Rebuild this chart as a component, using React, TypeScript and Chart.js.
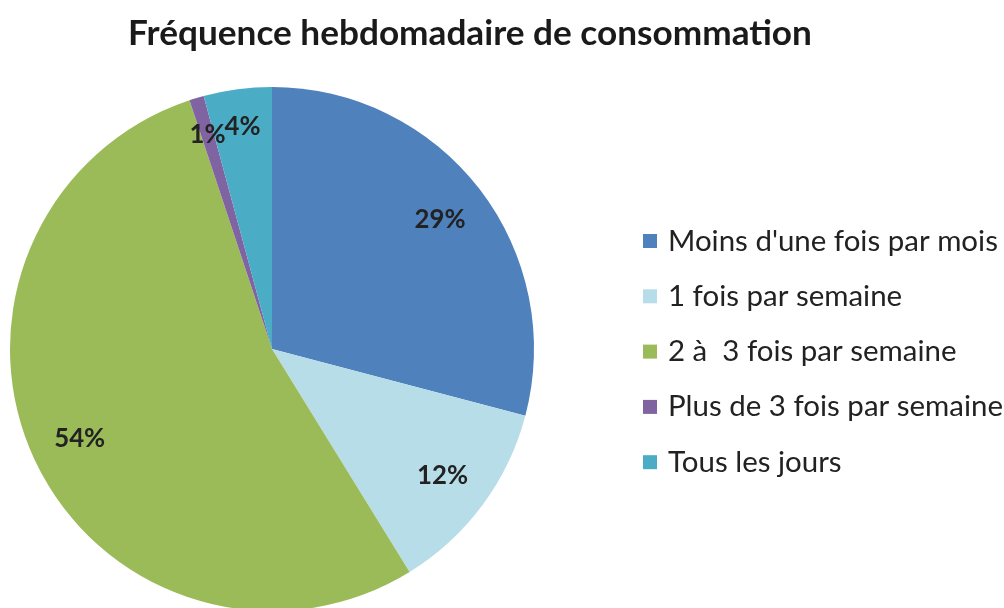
import React, { useEffect, useRef } from "react";
import { Chart, registerables } from "chart.js";

Chart.register(...registerables);

const TITLE = "Fréquence hebdomadaire de consommation";
const CATEGORIES = [
  "Moins d'une fois par mois",
  "1 fois par semaine",
  "2 à  3 fois par semaine",
  "Plus de 3 fois par semaine",
  "Tous les jours",
];
const VALUES = [29.1, 12.1, 53.7, 0.9, 4.2];
const LABELS = ["29%", "12%", "54%", "1%", "4%"];
const COLORS = ["#4F81BD", "#B7DDE8", "#9BBB59", "#8064A2", "#4BACC6"];

const FONT = "Lato, 'Open Sans', sans-serif";

function fitFont(ctx: CanvasRenderingContext2D, text: string, weight: string, target: number, base: number) {
  ctx.font = `${weight} ${base}px ${FONT}`;
  const w = ctx.measureText(text).width;
  return base * (target / w);
}

const overlayPlugin = {
  id: "overlay",
  afterDatasetsDraw(chart: any) {
    const ctx: CanvasRenderingContext2D = chart.ctx;
    ctx.save();
    // title
    const ts = fitFont(ctx, TITLE, "bold", 684, 30);
    ctx.font = `bold ${ts}px ${FONT}`;
    ctx.fillStyle = "#1a1a1a";
    ctx.textAlign = "center";
    ctx.textBaseline = "middle";
    ctx.fillText(TITLE, 470, 34);

    // data labels
    const meta = chart.getDatasetMeta(0);
    const ls = fitFont(ctx, "29%", "bold", 51, 24);
    ctx.font = `bold ${ls}px ${FONT}`;
    ctx.fillStyle = "#222";
    meta.data.forEach((arc: any, i: number) => {
      const { x, y, startAngle, endAngle, outerRadius } = arc.getProps(
        ["x", "y", "startAngle", "endAngle", "outerRadius"],
        true
      );
      const mid = (startAngle + endAngle) / 2;
      const f = VALUES[i] < 5 ? 0.855 : 0.81;
      const r = outerRadius * f;
      ctx.fillText(LABELS[i], x + Math.cos(mid) * r, y + Math.sin(mid) * r);
    });

    // legend
    const gs = fitFont(ctx, CATEGORIES[0], "normal", 330, 24);
    ctx.font = `normal ${gs}px ${FONT}`;
    ctx.textAlign = "left";
    const ys = [241, 296.3, 351.6, 406.9, 462.2];
    CATEGORIES.forEach((c, i) => {
      ctx.fillStyle = COLORS[i];
      ctx.fillRect(643, ys[i] - 7, 14, 14);
      ctx.fillStyle = "#222";
      ctx.fillText(c, 668, ys[i]);
    });
    ctx.restore();
  },
};

export default function App() {
  const ref = useRef<HTMLCanvasElement>(null);
  useEffect(() => {
    if (!ref.current) return;
    const chart = new Chart(ref.current, {
      type: "pie",
      data: {
        labels: CATEGORIES,
        datasets: [
          {
            data: VALUES,
            backgroundColor: COLORS,
            borderWidth: 0,
          },
        ],
      },
      options: {
        responsive: false,
        animation: false,
        devicePixelRatio: 1,
        layout: { padding: { left: 10, top: 87, right: 470, bottom: 9 } },
        plugins: {
          legend: { display: false },
          title: { display: false },
          tooltip: { enabled: false },
        },
      },
      plugins: [overlayPlugin],
    });
    return () => chart.destroy();
  }, []);
  return (
    <div
      style={{
        position: "fixed",
        left: 0,
        top: 0,
        width: 1004,
        height: 608,
        overflow: "hidden",
        background: "#fff",
      }}
    >
      <canvas ref={ref} width={1004} height={620} style={{ display: "block" }} />
    </div>
  );
}
